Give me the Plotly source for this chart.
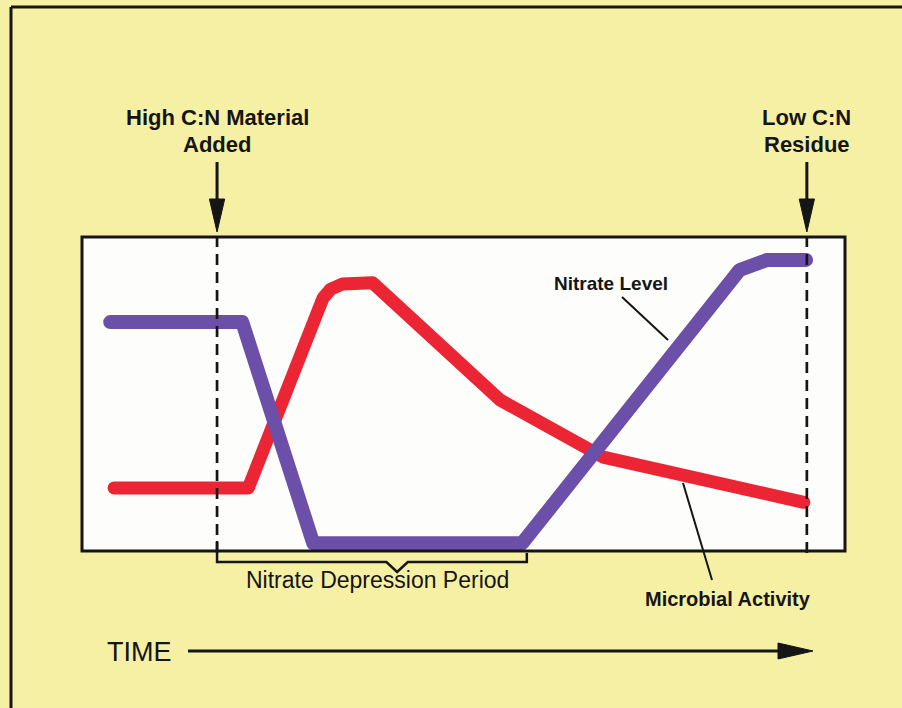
import plotly.graph_objects as go

# ---------------- data (arbitrary units: time 0-100, level 0-100) ----------------
time_nitrate = [3.7, 21.0, 30.3, 57.7, 86.2, 87.9, 89.8, 94.9]
nitrate_level = [72.9, 72.9, 2.5, 2.5, 89.5, 91.5, 92.7, 92.7]

time_microbial = [4.2, 21.8, 31.6, 32.6, 34.1, 38.1, 54.8, 65.7, 68.3, 94.6]
microbial_activity = [20.1, 20.1, 80.6, 83.4, 85.0, 85.4, 48.1, 33.1, 29.9, 15.5]

event_times = [17.7, 95.0]           # High C:N added, Low C:N residue
event_labels = [["High C:N Material", "Added"], ["Low C:N", "Residue"]]
depression_period = [17.7, 58.3, 41.3]  # start, end, bracket tip

W, H = 902, 708
YELLOW = "#f6f0a4"
RED = "#ec2535"
PURPLE = "#6c4fa8"
INK = "#151515"
FONT = "Liberation Sans, Arial, sans-serif"


def px(x):
    return x / W


def py(y):
    return 1 - y / H


fig = go.Figure()
fig.add_trace(go.Scatter(x=time_microbial, y=microbial_activity, mode="lines",
                         line=dict(color=RED, width=13), name="Microbial Activity",
                         hoverinfo="skip"))
fig.add_trace(go.Scatter(x=time_nitrate, y=nitrate_level, mode="lines",
                         line=dict(color=PURPLE, width=14), name="Nitrate Level",
                         hoverinfo="skip"))

shapes = []
# outer frame (top and left edges)
shapes.append(dict(type="line", xref="paper", yref="paper", x0=px(11), x1=px(902),
                   y0=py(7), y1=py(7), line=dict(color=INK, width=3)))
shapes.append(dict(type="line", xref="paper", yref="paper", x0=px(11), x1=px(11),
                   y0=py(7), y1=py(708), line=dict(color=INK, width=3)))
# plot box
shapes.append(dict(type="rect", xref="x domain", yref="y domain", x0=0, x1=1, y0=0, y1=1,
                   line=dict(color=INK, width=3)))

# event dashed lines + arrows
for t in event_times:
    shapes.append(dict(type="line", xref="x", yref="paper", x0=t, x1=t,
                       y0=py(553), y1=py(232), line=dict(color=INK, width=2.7, dash="11px,7px")))
    shapes.append(dict(type="line", xref="x", yref="paper", x0=t, x1=t,
                       y0=py(162), y1=py(202), line=dict(color=INK, width=3)))
    hw = 1.0
    shapes.append(dict(type="path", xref="x", yref="paper",
                       path=f"M {t-hw},{py(199)} L {t+hw},{py(199)} L {t},{py(232)} Z",
                       fillcolor=INK, line=dict(color=INK, width=1)))

# bracket for nitrate depression period
t0, t1, tm = depression_period
yb = py(562)
shapes.append(dict(type="path", xref="x", yref="paper",
                   path=(f"M {t0},{py(541)} L {t0},{yb} L {tm-1.4},{yb} L {tm},{py(572)} "
                         f"L {tm+1.4},{yb} L {t1},{yb} L {t1},{py(553)}"),
                   line=dict(color=INK, width=2.5)))

# leader lines
shapes.append(dict(type="line", xref="paper", yref="paper", x0=px(622), y0=py(297),
                   x1=px(668), y1=py(340), line=dict(color=INK, width=2)))
shapes.append(dict(type="line", xref="paper", yref="paper", x0=px(683), y0=py(483),
                   x1=px(712), y1=py(580), line=dict(color=INK, width=2)))

# TIME arrow
shapes.append(dict(type="line", xref="paper", yref="paper", x0=px(188), x1=px(782),
                   y0=py(651), y1=py(651), line=dict(color=INK, width=3)))
shapes.append(dict(type="path", xref="paper", yref="paper",
                   path=f"M {px(778)},{py(643)} L {px(778)},{py(659)} L {px(813)},{py(651)} Z",
                   fillcolor=INK, line=dict(color=INK, width=1)))

annotations = []
label_rows = [117, 145]
for t, lines in zip(event_times, event_labels):
    for txt, yrow in zip(lines, label_rows):
        annotations.append(dict(text=f"<b>{txt}</b>", xref="x", yref="paper", x=t, y=py(yrow),
                                xanchor="center", yanchor="middle", showarrow=False,
                                font=dict(family=FONT, size=22, color=INK)))

annotations.append(dict(text="<b>Nitrate Level</b>", xref="paper", yref="paper",
                        x=px(611), y=py(283), xanchor="center", yanchor="middle", showarrow=False,
                        font=dict(family=FONT, size=19, color=INK)))
annotations.append(dict(text="<b>Microbial Activity</b>", xref="paper", yref="paper",
                        x=px(728), y=py(599), xanchor="center", yanchor="middle", showarrow=False,
                        font=dict(family=FONT, size=20, color=INK)))
annotations.append(dict(text="Nitrate Depression Period", xref="paper", yref="paper",
                        x=px(377), y=py(580), xanchor="center", yanchor="middle", showarrow=False,
                        font=dict(family=FONT, size=23, color=INK)))
annotations.append(dict(text="TIME", xref="paper", yref="paper",
                        x=px(105), y=py(652), xanchor="left", yanchor="middle", showarrow=False,
                        font=dict(family=FONT, size=27, color=INK)))

fig.update_layout(
    width=W, height=H,
    margin=dict(l=0, r=0, t=0, b=0),
    paper_bgcolor=YELLOW,
    plot_bgcolor="#fdfdfb",
    showlegend=False,
    xaxis=dict(range=[0, 100], domain=[px(82), px(845)], visible=False, fixedrange=True),
    yaxis=dict(range=[0, 100], domain=[py(551), py(237)], visible=False, fixedrange=True),
    shapes=shapes,
    annotations=annotations,
)

post = """
document.body.style.margin='0';
document.body.style.padding='0';
document.body.style.overflow='hidden';
var gd = document.getElementById('{plot_id}');
function roundLines() {
  gd.querySelectorAll('.scatterlayer path.js-line').forEach(function (p) {
    p.style.strokeLinejoin = 'round';
    p.style.strokeLinecap = 'round';
  });
}
roundLines();
if (gd.on) { gd.on('plotly_afterplot', roundLines); }
setTimeout(roundLines, 50);
"""

fig.write_html("out.html", config={"displayModeBar": False}, post_script=post)
